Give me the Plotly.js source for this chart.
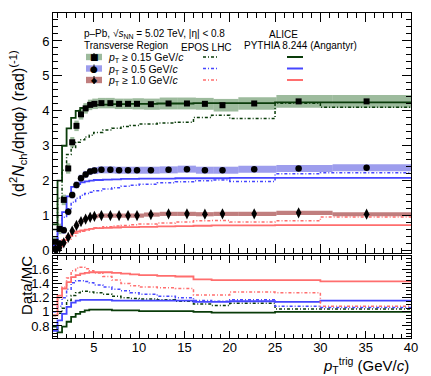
<!DOCTYPE html>
<html><head><meta charset="utf-8">
<script src="https://cdn.plot.ly/plotly-3.0.1.min.js"></script>
<style>html,body{margin:0;padding:0;background:#fff}#chart{width:431px;height:376px}</style>
</head><body><div id="chart"></div>
<script>
// ---------------- data ----------------
const dataX = [0.78,1.22,1.69,2.18,2.62,3.09,3.59,4.1,4.6,5.07,5.84,6.83,7.79,8.78,9.77,11.3,13.25,15.28,17.26,19.2,22.7,27.6,35.1];
const data015 = [0.25,0.62,1.45,2.35,3.1,3.57,3.9,4.07,4.17,4.2,4.22,4.22,4.2,4.2,4.2,4.19,4.21,4.21,4.2,4.16,4.21,4.27,4.27];
const data05  = [0.05,0.2,0.58,1.11,1.59,1.88,2.07,2.18,2.26,2.29,2.31,2.31,2.3,2.3,2.3,2.3,2.31,2.33,2.3,2.3,2.33,2.35,2.37];
const data10  = [0.02,0.08,0.22,0.38,0.56,0.72,0.83,0.9,0.95,0.98,1.0,1.0,1.0,1.0,1.0,1.03,1.05,1.05,1.04,1.05,1.05,1.08,1.04];
const sys015 = [0.15,0.15,0.15,0.15,0.15,0.15,0.15,0.15,0.15,0.15,0.15,0.15,0.15,0.15,0.16,0.16,0.17,0.17,0.17,0.18,0.18,0.18,0.18];
const sys05  = [0.1,0.1,0.1,0.1,0.1,0.1,0.1,0.1,0.1,0.1,0.1,0.1,0.1,0.1,0.1,0.1,0.1,0.1,0.1,0.1,0.1,0.1,0.1];
const sys10  = [0.06,0.06,0.06,0.06,0.06,0.06,0.06,0.06,0.06,0.06,0.06,0.06,0.06,0.06,0.06,0.06,0.06,0.06,0.06,0.06,0.06,0.06,0.06];

const mcEdges = [0.5,1,1.5,2,2.5,3,3.5,4,4.5,5,6,7,8,9,10,12,14,16,18,20,25,30,40];
const pythia015 = [0.75,2.0,3.0,3.5,3.8,4.0,4.08,4.12,4.15,4.17,4.18,4.19,4.19,4.2,4.2,4.21,4.21,4.22,4.22,4.22,4.24,4.24];
const pythia05  = [0.15,0.6,1.1,1.55,1.82,1.9,1.95,1.98,2.0,2.02,2.03,2.04,2.05,2.05,2.06,2.06,2.07,2.07,2.07,2.08,2.08,2.08];
const pythia10  = [0.02,0.12,0.3,0.42,0.5,0.55,0.58,0.6,0.62,0.64,0.65,0.66,0.67,0.67,0.68,0.69,0.7,0.71,0.72,0.72,0.73,0.73];
const epos015 = [0.6,1.5,2.3,2.75,2.95,3.1,3.17,3.25,3.3,3.38,3.45,3.5,3.55,3.58,3.62,3.65,3.67,3.81,3.87,3.78,4.22,4.1];
const epos05  = [0.2,0.55,0.95,1.2,1.38,1.5,1.58,1.63,1.67,1.71,1.76,1.8,1.84,1.87,1.9,1.94,1.97,2.0,2.02,1.98,2.2,2.23];
const epos10  = [0.0,0.1,0.22,0.33,0.42,0.5,0.55,0.59,0.62,0.65,0.68,0.7,0.72,0.74,0.76,0.79,0.82,0.85,0.86,0.82,0.85,0.96];

const ratioPythia015 = [0.79,0.71,0.79,0.86,0.93,0.97,1.0,1.02,1.03,1.03,1.03,1.02,1.02,1.02,1.01,1.01,1.01,1.0,0.99,0.99,1.0,1.0];
const ratioPythia05  = [0.73,0.88,0.97,1.07,1.13,1.16,1.17,1.17,1.17,1.17,1.17,1.16,1.16,1.16,1.16,1.16,1.16,1.14,1.14,1.15,1.14,1.16];
const ratioPythia10  = [0.95,1.23,1.33,1.42,1.49,1.52,1.54,1.55,1.56,1.56,1.56,1.55,1.54,1.53,1.52,1.51,1.5,1.46,1.45,1.45,1.45,1.43];
const ratioEpos015 = [0.95,0.98,1.05,1.16,1.23,1.27,1.29,1.29,1.28,1.27,1.25,1.22,1.2,1.19,1.18,1.17,1.15,1.11,1.09,1.12,1.04,1.04];
const ratioEpos05  = [1.0,1.08,1.2,1.32,1.41,1.44,1.44,1.43,1.41,1.38,1.35,1.32,1.3,1.27,1.25,1.22,1.2,1.16,1.15,1.17,1.08,1.06];
const ratioEpos10  = [1.1,1.2,1.35,1.48,1.58,1.62,1.63,1.61,1.58,1.55,1.5,1.45,1.4,1.37,1.35,1.34,1.33,1.24,1.24,1.28,1.27,1.08];

const legendLabels = ['<i>p</i><sub>T</sub> ≥ 0.15 GeV/<i>c</i>','<i>p</i><sub>T</sub> ≥ 0.5 GeV/<i>c</i>','<i>p</i><sub>T</sub> ≥ 1.0 GeV/<i>c</i>'];

// ---------------- styles ----------------
const cGreen = 'rgb(10,60,10)', cBlue = 'rgb(70,70,255)', cRed = 'rgb(255,110,110)';
const bandCols = ['rgba(60,120,60,0.5)','rgba(60,60,220,0.5)','rgba(140,20,20,0.55)'];
const lineCols = [cGreen, cBlue, cRed];
const symbols = ['square','circle','diamond-tall'];
const msz = [6,6.5,8];
const eposDash = '3px,2px,1px,2px';

// bin widths for systematic boxes derived from data x
const bEdges = [0.5];
for (let i=0;i<dataX.length-1;i++) bEdges.push((dataX[i]+dataX[i+1])/2);
bEdges.push(40);
const bWidth = dataX.map((_,i)=>bEdges[i+1]-bEdges[i]);
const bCenter = dataX.map((_,i)=>(bEdges[i+1]+bEdges[i])/2);

function stepY(v){ return v.concat([v[v.length-1]]); }

const traces = [];
const dataSets = [data015, data05, data10];
const sysSets = [sys015, sys05, sys10];
const pySets = [pythia015, pythia05, pythia10];
const epSets = [epos015, epos05, epos10];
const rPySets = [ratioPythia015, ratioPythia05, ratioPythia10];
const rEpSets = [ratioEpos015, ratioEpos05, ratioEpos10];

for (let k=0;k<3;k++){
  traces.push({type:'bar', x:bCenter, width:bWidth, base:dataSets[k].map((v,i)=>v-sysSets[k][i]),
    y:sysSets[k].map(s=>2*s), marker:{color:bandCols[k], line:{width:0}}, xaxis:'x', yaxis:'y', hoverinfo:'skip', showlegend:false});
}
for (let k=0;k<3;k++){
  traces.push({type:'scatter', mode:'lines', x:mcEdges, y:stepY(epSets[k]), line:{shape:'hv', color:lineCols[k], width:1.5, dash:eposDash}, xaxis:'x', yaxis:'y', showlegend:false});
  traces.push({type:'scatter', mode:'lines', x:mcEdges, y:stepY(pySets[k]), line:{shape:'hv', color:lineCols[k], width:1.8}, xaxis:'x', yaxis:'y', showlegend:false});
}
for (let k=0;k<3;k++){
  traces.push({type:'scatter', mode:'markers', x:dataX, y:dataSets[k], marker:{symbol:symbols[k], size:msz[k], color:'black'}, xaxis:'x', yaxis:'y', showlegend:false});
}
for (let k=0;k<3;k++){
  traces.push({type:'scatter', mode:'lines', x:mcEdges, y:stepY(rEpSets[k]), line:{shape:'hv', color:lineCols[k], width:1.5, dash:eposDash}, xaxis:'x2', yaxis:'y2', showlegend:false});
  traces.push({type:'scatter', mode:'lines', x:mcEdges, y:stepY(rPySets[k]), line:{shape:'hv', color:lineCols[k], width:1.8}, xaxis:'x2', yaxis:'y2', showlegend:false});
}

// ---------------- layout ----------------
const L=53, T=13, W=358, H=325;
const px = x => (x-L)/W;
const py = y => (T+H-y)/H;
const FONT = 'Liberation Sans, Arial, sans-serif';

const axBase = {showline:true, linecolor:'black', linewidth:1, mirror:'allticks', ticks:'inside', tickcolor:'black', showgrid:false, zeroline:false,
  tickfont:{family:FONT,size:13,color:'black'}};

const annotations = [
  {text:'p–Pb, √<i>s</i><sub>NN</sub> = 5.02 TeV, |η| < 0.8', x:px(82), y:py(34), xanchor:'left'},
  {text:'Transverse Region', x:px(82), y:py(45.5), xanchor:'left'},
  {text:'ALICE', x:px(283), y:py(34), xanchor:'center'},
  {text:'EPOS LHC', x:px(206), y:py(47), xanchor:'center'},
  {text:'PYTHIA 8.244 (Angantyr)', x:px(300), y:py(45.5), xanchor:'center'},
].map(a=>Object.assign({xref:'paper',yref:'paper',yanchor:'middle',showarrow:false,font:{family:FONT,size:10,color:'black'}},a));

const rowY = [57, 68.5, 80];
const legGlyph = ['■','●','◆'];
const shapes = [];
for (let k=0;k<3;k++){
  shapes.push({type:'rect', xref:'paper', yref:'paper', x0:px(86), x1:px(102), y0:py(rowY[k]+3.2), y1:py(rowY[k]-3.2), fillcolor:bandCols[k], line:{width:0}});
  shapes.push({type:'line', xref:'paper', yref:'paper', x0:px(94), x1:px(94), y0:py(rowY[k]+4), y1:py(rowY[k]-4), line:{color:'black',width:1}});
  shapes.push({type:'line', xref:'paper', yref:'paper', x0:px(203), x1:px(218), y0:py(rowY[k]), y1:py(rowY[k]), line:{color:lineCols[k],width:1.5,dash:eposDash}});
  shapes.push({type:'line', xref:'paper', yref:'paper', x0:px(287), x1:px(303), y0:py(rowY[k]), y1:py(rowY[k]), line:{color:lineCols[k],width:2}});
  annotations.push({text:legGlyph[k], x:px(94), y:py(rowY[k]), xref:'paper', yref:'paper', xanchor:'center', yanchor:'middle', showarrow:false, font:{family:'DejaVu Sans',size:k===2?8:9,color:'black'}});
  annotations.push({text:legendLabels[k], x:px(106), y:py(rowY[k]+1), xref:'paper', yref:'paper', xanchor:'left', yanchor:'middle', showarrow:false, font:{family:FONT,size:10.5,color:'black'}});
}
annotations.push({text:'⟨d<sup>2</sup><i>N</i><sub>ch</sub>/dηdφ⟩ (rad)<sup>(-1)</sup>', textangle:-90, x:px(18), y:py(124), xref:'paper', yref:'paper', xanchor:'center', yanchor:'middle', showarrow:false, font:{family:FONT,size:16,color:'black'}});
annotations.push({text:'Data/MC', textangle:-90, x:px(26), y:py(286), xref:'paper', yref:'paper', xanchor:'center', yanchor:'middle', showarrow:false, font:{family:FONT,size:15,color:'black'}});
annotations.push({text:'<i>p</i><sub>T</sub><sup>trig</sup> (GeV/<i>c</i>)', x:px(411), y:py(365), xref:'paper', yref:'paper', xanchor:'right', yanchor:'middle', showarrow:false, font:{family:FONT,size:15,color:'black'}});

const layout = {
  width:431, height:376, margin:{l:L, r:431-L-W, t:T, b:376-T-H}, paper_bgcolor:'white', plot_bgcolor:'white',
  barmode:'overlay', showlegend:false,
  xaxis: Object.assign({}, axBase, {range:[0.5,40], dtick:5, tick0:0, ticklen:9, showticklabels:false, anchor:'y', minor:{ticks:'inside', dtick:1, ticklen:5, tickcolor:'black'}}),
  yaxis: Object.assign({}, axBase, {domain:[(338-253)/325,1], range:[-0.07,6.8], dtick:1, ticklen:9, anchor:'x', minor:{ticks:'inside', dtick:0.2, ticklen:5, tickcolor:'black'}}),
  xaxis2: Object.assign({}, axBase, {range:[0.5,40], dtick:5, tick0:0, ticklen:7, anchor:'y2', ticklabelstandoff:-3, minor:{ticks:'inside', dtick:1, ticklen:4, tickcolor:'black'}}),
  yaxis2: Object.assign({}, axBase, {domain:[0,(338-256)/325], range:[0.63,1.79], dtick:0.2, tick0:0, ticklen:9, anchor:'x2', minor:{ticks:'inside', dtick:0.05, ticklen:5, tickcolor:'black'}}),
  annotations, shapes
};
Plotly.newPlot('chart', traces, layout, {displayModeBar:false, staticPlot:true});
</script></body></html>
